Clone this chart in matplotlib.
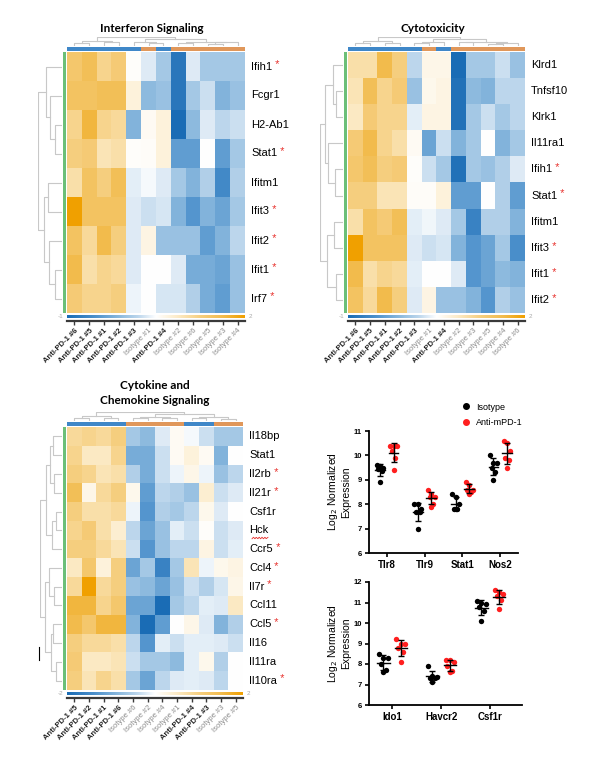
import numpy as np
import matplotlib
matplotlib.use('Agg')
import matplotlib.pyplot as plt
from matplotlib.colors import LinearSegmentedColormap, ListedColormap
from matplotlib.lines import Line2D

plt.rcParams['font.family'] = ['Liberation Sans', 'DejaVu Sans']

W, H = 592, 761

# ---------------- heatmap data (scaled expression, -1 .. 1) ----------------
ifn_genes = ['Ifih1', 'Fcgr1', 'H2-Ab1', 'Stat1', 'Ifitm1', 'Ifit3', 'Ifit2', 'Ifit1', 'Irf7']
ifn_star = [1, 0, 0, 1, 0, 1, 1, 1, 1]
ifn_samples = ['Anti-PD-1 #6', 'Anti-PD-1 #5', 'Anti-PD-1 #1', 'Anti-PD-1 #2', 'Anti-PD-1 #3',
               'Isotype #1', 'Anti-PD-1 #4', 'Isotype #2', 'Isotype #6', 'Isotype #5',
               'Isotype #3', 'Isotype #4']
ifn_values = [
    [0.60, 0.70, 0.45, 0.55, 0.02, -0.10, -0.30, -0.90, -0.10, -0.30, -0.30, -0.30],
    [0.65, 0.65, 0.70, 0.70, 0.15, -0.40, -0.35, -0.90, -0.30, -0.15, -0.45, -0.35],
    [0.45, 0.80, 0.45, 0.40, -0.45, 0.05, 0.15, -1.00, -0.40, -0.10, -0.20, -0.15],
    [0.50, 0.55, 0.30, 0.35, 0.02, 0.03, 0.15, -0.60, -0.60, 0.00, -0.60, -0.30],
    [0.35, 0.65, 0.50, 0.70, -0.08, -0.03, -0.10, -0.30, -0.45, -0.25, -0.75, -0.25],
    [1.00, 0.65, 0.65, 0.65, -0.10, -0.15, -0.12, -0.45, -0.65, -0.45, -0.55, -0.30],
    [0.65, 0.40, 0.75, 0.50, -0.10, 0.12, -0.35, -0.35, -0.35, -0.60, -0.45, -0.20],
    [0.75, 0.35, 0.45, 0.40, -0.10, 0.00, 0.00, -0.10, -0.50, -0.50, -0.55, -0.35],
    [0.55, 0.45, 0.45, 0.50, -0.05, 0.00, -0.12, -0.12, -0.25, -0.50, -0.60, -0.35],
]
ifn_row_tree = ((0, (1, (2, 3, 0.3), 0.5), 0.7), ((4, 5, 0.6), (6, (7, 8, 0.3), 0.55), 0.75), 1.0)
ifn_col_tree = (((0, 1, 0.3), (2, 3, 0.4), 0.6),
                ((4, (5, 6, 0.3), 0.5), ((7, 8, 0.35), ((9, 10, 0.2), 11, 0.4), 0.5), 0.8), 1.0)

cyto_genes = ['Klrd1', 'Tnfsf10', 'Klrk1', 'Il11ra1', 'Ifih1', 'Stat1', 'Ifitm1', 'Ifit3', 'Ifit1', 'Ifit2']
cyto_star = [0, 0, 0, 0, 1, 1, 0, 1, 1, 1]
cyto_samples = ['Anti-PD-1 #6', 'Anti-PD-1 #5', 'Anti-PD-1 #1', 'Anti-PD-1 #2', 'Anti-PD-1 #3',
                'Isotype #1', 'Anti-PD-1 #4', 'Isotype #2', 'Isotype #3', 'Isotype #5',
                'Isotype #4', 'Isotype #6']
cyto_values = [
    [0.35, 0.35, 0.75, 0.50, -0.20, 0.10, 0.10, -1.00, -0.30, -0.30, -0.15, -0.35],
    [0.30, 0.70, 0.45, 0.55, -0.35, 0.08, 0.12, -0.95, -0.40, -0.45, -0.20, -0.20],
    [0.25, 0.55, 0.45, 0.45, -0.08, 0.12, 0.12, -0.95, -0.30, -0.15, -0.30, -0.20],
    [0.55, 0.75, 0.45, 0.35, 0.05, -0.55, -0.15, -0.45, -0.30, 0.00, -0.45, -0.30],
    [0.60, 0.70, 0.50, 0.55, 0.02, -0.15, -0.30, -0.95, -0.30, -0.35, -0.25, -0.10],
    [0.50, 0.50, 0.30, 0.30, 0.03, 0.03, 0.15, -0.60, -0.60, 0.00, -0.25, -0.60],
    [0.35, 0.65, 0.55, 0.70, -0.08, -0.04, -0.10, -0.30, -0.80, -0.25, -0.25, -0.45],
    [1.00, 0.65, 0.65, 0.65, -0.10, -0.15, -0.12, -0.45, -0.65, -0.55, -0.30, -0.70],
    [0.75, 0.35, 0.45, 0.40, -0.08, 0.00, 0.00, -0.10, -0.65, -0.55, -0.40, -0.45],
    [0.65, 0.40, 0.75, 0.50, -0.10, 0.12, -0.35, -0.35, -0.45, -0.65, -0.25, -0.35],
]
cyto_row_tree = (((0, (1, 2, 0.3), 0.45), (3, (4, 5, 0.35), 0.65), 0.8),
                 ((6, 7, 0.4), (8, 9, 0.3), 0.7), 1.0)
cyto_col_tree = (((0, 1, 0.35), (2, 3, 0.3), 0.6),
                 (((4, 5, 0.3), 6, 0.45), ((7, 8, 0.4), ((9, 10, 0.25), 11, 0.35), 0.5), 0.8), 1.0)

cyk_genes = ['Il18bp', 'Stat1', 'Il2rb', 'Il21r', 'Csf1r', 'Hck', 'Ccr5', 'Ccl4', 'Il7r',
             'Ccl11', 'Ccl5', 'Il16', 'Il11ra', 'Il10ra']
cyk_star = [0, 0, 1, 1, 0, 0, 1, 1, 1, 0, 1, 0, 0, 1]
cyk_samples = ['Anti-PD-1 #5', 'Anti-PD-1 #2', 'Anti-PD-1 #1', 'Anti-PD-1 #6', 'Isotype #6',
               'Isotype #2', 'Isotype #4', 'Isotype #1', 'Anti-PD-1 #4', 'Anti-PD-1 #3',
               'Isotype #3', 'Isotype #5']
cyk_values = [
    [0.40, 0.45, 0.40, 0.50, -0.30, -0.40, -0.10, 0.05, -0.03, -0.15, -0.30, -0.30],
    [0.45, 0.25, 0.25, 0.45, -0.50, -0.50, -0.15, 0.05, 0.15, 0.05, -0.45, 0.00],
    [0.50, 0.45, 0.30, 0.35, -0.25, -0.50, -0.15, -0.05, 0.10, -0.05, -0.35, -0.20],
    [0.70, 0.10, 0.40, 0.50, 0.08, -0.60, -0.20, -0.25, -0.35, 0.20, -0.15, -0.10],
    [0.50, 0.35, 0.35, 0.40, -0.05, -0.65, -0.25, -0.30, -0.20, 0.08, -0.10, 0.00],
    [0.45, 0.55, 0.35, 0.20, -0.20, -0.55, -0.35, -0.08, -0.15, 0.02, -0.15, -0.10],
    [0.50, 0.50, 0.40, 0.30, -0.15, -0.65, -0.35, -0.20, -0.20, 0.12, -0.15, -0.08],
    [0.25, 0.60, 0.15, 0.50, -0.55, -0.30, -0.80, -0.30, 0.30, -0.05, 0.08, 0.12],
    [0.40, 1.00, 0.40, 0.50, -0.35, -0.40, -0.55, -0.35, -0.15, -0.25, -0.12, 0.10],
    [0.80, 0.80, 0.45, 0.60, -0.55, -0.55, -1.00, -0.30, -0.20, -0.08, -0.10, 0.25],
    [0.75, 0.60, 0.80, 0.80, -0.45, -1.00, -0.60, 0.00, 0.10, -0.10, -0.45, -0.25],
    [0.50, 0.40, 0.40, 0.35, -0.20, -0.65, -0.08, -0.15, -0.08, -0.08, -0.10, -0.15],
    [0.55, 0.25, 0.25, 0.30, -0.15, -0.30, -0.30, -0.40, -0.08, 0.08, -0.25, 0.00],
    [0.50, 0.30, 0.45, 0.35, -0.30, -0.55, -0.20, -0.10, -0.08, -0.10, -0.20, 0.00],
]
cyk_row_tree = ((((0, 1, 0.4), (2, 3, 0.35), 0.55), ((4, 5, 0.3), 6, 0.45), 0.75),
                ((7, (8, 9, 0.35), 0.6), ((10, 11, 0.4), (12, 13, 0.3), 0.5), 0.8), 1.0)
cyk_col_tree = (((0, 1, 0.3), (2, 3, 0.35), 0.6),
                (((4, 5, 0.3), (6, 7, 0.35), 0.5), ((8, 9, 0.3), (10, 11, 0.25), 0.45), 0.75), 1.0)

# ---------------- dot plot data (log2 normalized expression) ----------------
top_genes = ['Tlr8', 'Tlr9', 'Stat1', 'Nos2']
top_iso = [[9.6, 9.55, 9.5, 9.45, 9.35, 8.9],
           [8.0, 8.0, 7.8, 7.7, 7.7, 7.0],
           [8.4, 8.3, 8.0, 7.8, 7.8, 7.8],
           [10.0, 9.7, 9.7, 9.5, 9.3, 9.0]]
top_anti = [[10.4, 10.4, 10.4, 10.2, 9.9, 9.4],
            [8.6, 8.4, 8.3, 8.3, 8.0, 7.9],
            [8.9, 8.8, 8.6, 8.6, 8.5, 8.4],
            [10.6, 10.5, 10.2, 9.9, 9.8, 9.5]]
bot_genes = ['Ido1', 'Havcr2', 'Csf1r']
bot_iso = [[8.5, 8.3, 8.3, 8.0, 7.7, 7.6],
           [7.9, 7.4, 7.35, 7.3, 7.3, 7.1],
           [11.05, 11.0, 10.95, 10.8, 10.6, 10.1]]
bot_anti = [[9.2, 9.0, 9.0, 8.8, 8.6, 8.1],
            [8.2, 8.2, 8.1, 7.9, 7.65, 7.6],
            [11.6, 11.5, 11.4, 11.3, 11.1, 10.7]]

heat_cmap = LinearSegmentedColormap.from_list('bo', [
    (0.0, '#1a6cb5'), (0.15, '#4a8fcb'), (0.3, '#8ebbdf'), (0.4, '#bcd6ec'),
    (0.5, '#ffffff'), (0.62, '#fcebc8'), (0.75, '#f6cf80'), (0.88, '#f2bb4c'), (1.0, '#f0a000')])
group_cmap = ListedColormap(['#3f87c8', '#e0975a'])
DENDRO = '#c8c8c8'

fig = plt.figure(figsize=(W / 100, H / 100), dpi=100)


def box(x0, y0, x1, y1):
    return fig.add_axes([x0 / W, 1 - y1 / H, (x1 - x0) / W, (y1 - y0) / H])


def dendro(ax, tree, n, side):
    def walk(node):
        if isinstance(node, int):
            return node + 0.5, 0.0
        a, b, h = node
        xa, ha = walk(a)
        xb, hb = walk(b)
        xs, hs = [xa, xa, xb, xb], [ha, h, h, hb]
        if side == 'top':
            ax.plot(xs, hs, color=DENDRO, lw=0.8)
        else:
            ax.plot(hs, xs, color=DENDRO, lw=0.8)
        return (xa + xb) / 2, h
    walk(tree)
    if side == 'top':
        ax.set_xlim(0, n)
        ax.set_ylim(0, 1.02)
    else:
        ax.set_ylim(n, 0)
        ax.set_xlim(1.02, 0)
    ax.axis('off')


def heat_panel(x0, x1, y0, y1, dx0, genes, stars, samples, values, row_tree, col_tree, lo, hi):
    nr, nc = len(genes), len(samples)
    ax = box(x0, y0, x1, y1)
    ax.imshow(np.array(values), cmap=heat_cmap, vmin=-1, vmax=1, aspect='auto',
              interpolation='nearest')
    ax.axis('off')

    rh = (y1 - y0) / nr
    for i, g in enumerate(genes):
        t = fig.text((x1 + 6) / W, 1 - (y0 + (i + 0.5) * rh) / H, g, fontsize=8,
                     va='center', ha='left')
        if stars[i]:
            ax.annotate(' *', xy=(1, 0.62), xycoords=t, va='center', ha='left',
                        fontsize=8, color='#e8322e', annotation_clip=False)

    # row side colour + dendrogram
    gax = box(x0 - 4, y0, x0 - 1, y1)
    gax.imshow(np.zeros((nr, 1)), cmap=ListedColormap(['#6cbf78']), aspect='auto')
    gax.axis('off')
    dendro(box(dx0, y0, x0 - 5, y1), row_tree, nr, 'left')

    # column side colour + dendrogram
    groups = [[0 if s.startswith('Anti') else 1 for s in samples]]
    cax = box(x0, y0 - 5, x1, y0 - 1)
    cax.imshow(groups, cmap=group_cmap, vmin=0, vmax=1, aspect='auto', interpolation='nearest')
    cax.axis('off')
    dendro(box(x0, y0 - 15, x1, y0 - 6), col_tree, nc, 'top')

    # colour scale
    sax = box(x0, y1 + 2, x1, y1 + 5)
    sax.imshow(np.linspace(-1, 1, 256)[None, :], cmap=heat_cmap, aspect='auto')
    sax.axis('off')
    fig.text((x0 - 4) / W, 1 - (y1 + 3.5) / H, lo, fontsize=4.5, color='#aaaaaa',
             ha='right', va='center')
    fig.text((x1 + 4) / W, 1 - (y1 + 3.5) / H, hi, fontsize=4.5, color='#aaaaaa',
             ha='left', va='center')

    # sample axis
    tax = box(x0, y1 + 7, x1, y1 + 8)
    tax.set_xlim(0, nc)
    tax.set_yticks([])
    for k in ('top', 'left', 'right'):
        tax.spines[k].set_visible(False)
    tax.spines['bottom'].set_linewidth(1.6)
    tax.spines['bottom'].set_color('#3a3a3a')
    tax.set_facecolor('none')
    tax.set_xticks(np.arange(nc) + 0.5)
    tax.set_xticklabels(samples, rotation=45, ha='right', va='top', rotation_mode='anchor',
                        fontsize=5.5)
    tax.tick_params(axis='x', length=3, width=1, color='#3a3a3a', pad=1.5)
    for lab in tax.get_xticklabels():
        if lab.get_text().startswith('Anti'):
            lab.set_fontweight('bold')
            lab.set_color('#222222')
        else:
            lab.set_color('#8c8c8c')


def dot_panel(x0, y0, x1, y1, genes, iso, anti, ylim, xlim):
    ax = box(x0, y0, x1, y1)
    jitter = np.array([-0.09, 0.0, 0.09, -0.05, 0.05, 0.0])
    for i in range(len(genes)):
        for vals, off, col in ((iso[i], -0.18, 'black'), (anti[i], 0.18, '#ff1f1f')):
            vals = np.array(vals)
            ax.scatter(i + off + jitter, vals, s=15, color=col, linewidths=0, zorder=3)
            m, sd = vals.mean(), vals.std(ddof=1)
            ax.plot([i + off - 0.13, i + off + 0.13], [m, m], color='black', lw=1, zorder=4)
            ax.errorbar(i + off, m, yerr=sd, color='black', lw=1, capsize=2.5,
                        capthick=1, zorder=4)
    ax.set_ylim(*ylim)
    ax.set_xlim(*xlim)
    ax.set_xticks(range(len(genes)))
    ax.set_xticklabels(genes, fontsize=7, fontweight='bold')
    ax.set_yticks(range(ylim[0], ylim[1] + 1))
    for lab in ax.get_yticklabels():
        lab.set_fontweight('bold')
        lab.set_fontsize(5.5)
    for k in ('top', 'right'):
        ax.spines[k].set_visible(False)
    for k in ('left', 'bottom'):
        ax.spines[k].set_linewidth(1.3)
    ax.tick_params(length=3, width=1.2, pad=2)
    fig.text(339 / W, 1 - (y0 + y1) / 2 / H, 'Log$_2$ Normalized\nExpression', fontsize=7.5,
             rotation=90, ha='center', va='center', multialignment='center', linespacing=1.15)


heat_panel(67, 245, 52, 313, 38, ifn_genes, ifn_star, ifn_samples, ifn_values,
           ifn_row_tree, ifn_col_tree, '-1', '2')
heat_panel(348, 525, 52, 313, 320, cyto_genes, cyto_star, cyto_samples, cyto_values,
           cyto_row_tree, cyto_col_tree, '-1', '2')
heat_panel(67, 243, 427, 690, 40, cyk_genes, cyk_star, cyk_samples, cyk_values,
           cyk_row_tree, cyk_col_tree, '-2', '2')

fig.text(152 / W, 1 - 28 / H, 'Interferon Signaling', fontsize=8.5, fontweight='bold',
         family='Lato', ha='center', va='center')
fig.text(433 / W, 1 - 28 / H, 'Cytotoxicity', fontsize=8.5, fontweight='bold',
         family='Lato', ha='center', va='center')
fig.text(155 / W, 1 - 393 / H, 'Cytokine and\nChemokine Signaling', fontsize=8.5,
         fontweight='bold', family='Lato', ha='center', va='center', linespacing=1.5)

dot_panel(369, 431, 518, 553, top_genes, top_iso, top_anti, (6, 11), (-0.47, 3.47))
dot_panel(369, 582, 522, 705, bot_genes, bot_iso, bot_anti, (6, 12), (-0.47, 2.65))

handles = [Line2D([], [], ls='none', marker='o', ms=4, color='black'),
           Line2D([], [], ls='none', marker='o', ms=4, color='#ff1f1f')]
fig.legend(handles, ['Isotype', 'Anti-mPD-1'], loc='upper left',
           bbox_to_anchor=(456 / W, 1 - 398 / H), frameon=False, fontsize=6.5,
           handletextpad=0.5, labelspacing=0.7, handlelength=1.2, borderpad=0)

# stray marks present in the original screenshot
fig.add_artist(Line2D([38.5 / W] * 2, [1 - 647 / H, 1 - 660 / H], color='black', lw=0.8))
wx = np.linspace(252, 268, 25)
fig.add_artist(Line2D(wx / W, 1 - (538 + 0.8 * np.sin(wx * 2.2)) / H, color='#e8322e', lw=0.6))

fig.savefig('out.png', dpi=100)
